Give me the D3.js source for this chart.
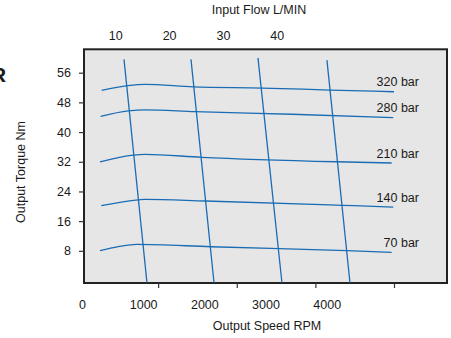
<!DOCTYPE html>
<html>
<head>
<meta charset="utf-8">
<script src="https://cdn.jsdelivr.net/npm/d3@7"></script>
<style>
    body { margin: 0; background: #fff; }
    svg { display: block; font-family: "Liberation Sans", Arial, sans-serif; }
</style>
</head>
<body>
<div id="chart"></div>
<script>

// pressure curves: rpm / torque pairs
let pressureLabels = ["320 bar", "280 bar", "210 bar", "140 bar", "70 bar"];
let pressureRpm = [
    [282, 613, 833, 1447, 2321, 3186, 4000],
    [269, 620, 833, 1469, 2700, 3990],
    [261, 684, 833, 1554, 3271, 3970],
    [277, 748, 833, 1605, 3335, 3991],
    [261, 493, 727, 1672, 3398, 3970]
];
let pressureTorque = [
    [51.25, 52.5, 52.87, 52.2, 51.87, 51.33, 50.87],
    [44.25, 45.7, 46.0, 45.5, 44.8, 43.87],
    [32.0, 33.8, 34.0, 33.2, 32.0, 31.66],
    [20.16, 21.7, 21.88, 21.42, 20.26, 19.8],
    [8.03, 9.1, 9.75, 9.1, 8.03, 7.6]
];

// input flow lines (nearly vertical)
let flowTopRpm = [566, 1418, 2270, 3147];
let flowBottomRpm = [858, 1711, 2575, 3440];
let flowTopTorque = [59.6, 59.6, 60.0, 59.4];
let flowBottomTorque = [-0.6, -0.6, -0.6, -0.6];

// tick labels
let torqueTicks = [8, 16, 24, 32, 40, 48, 56];
let speedTicks = [1000, 2000, 3000, 4000];
let speedLabels = [0, 1000, 2000, 3000, 4000];
let flowLabels = [10, 20, 30, 40];

let width = 451, height = 338;
let frame = {left: 84, top: 49.3, right: 447, bottom: 283};

let svg = d3.select("#chart").append("svg")
    .attr("width", width)
    .attr("height", height);

// scales
let x = d3.scaleLinear().domain([0, 4000]).range([79.5, 394]);
let y = d3.scaleLinear().domain([0, 56]).range([280.5, 72.7]);
// the printed labels do not sit on the tick marks, they have their own spacing
let xLabel = d3.scaleLinear().domain([0, 4000]).range([82, 326.7]);
let flowX = d3.scaleLinear().domain([10, 40]).range([115.3, 276.7]);

// plot frame
svg.append("rect")
    .attr("x", frame.left)
    .attr("y", frame.top)
    .attr("width", frame.right - frame.left)
    .attr("height", frame.bottom - frame.top)
    .attr("fill", "#e6e6e6")
    .attr("stroke", "#222")
    .attr("stroke-width", 2);

// y axis
let yAxisGroup = svg.append("g")
    .attr("transform", `translate(${frame.left}, 0)`)
    .call(d3.axisLeft(y).tickValues(torqueTicks).tickSize(5).tickPadding(8));
yAxisGroup.select(".domain").remove();

// bottom tick marks
let xTickGroup = svg.append("g")
    .attr("transform", `translate(0, ${frame.bottom})`)
    .call(d3.axisBottom(x).tickValues(speedTicks).tickSize(5).tickFormat(""));
xTickGroup.select(".domain").remove();

// bottom labels
let xLabelGroup = svg.append("g")
    .attr("transform", `translate(0, ${frame.bottom + 17.4})`)
    .call(d3.axisBottom(xLabel).tickValues(speedLabels).tickSize(0).tickPadding(0).tickFormat(d3.format("d")));
xLabelGroup.select(".domain").remove();

// top flow labels
let flowGroup = svg.append("g")
    .attr("transform", "translate(0, 40)")
    .call(d3.axisTop(flowX).tickValues(flowLabels).tickSize(0).tickPadding(0));
flowGroup.select(".domain").remove();

svg.selectAll(".tick text")
    .attr("font-size", 12.5)
    .attr("font-family", "Liberation Sans, Arial, sans-serif")
    .attr("fill", "#1a1a1a");
svg.selectAll(".tick line")
    .attr("stroke", "#333")
    .attr("stroke-width", 1.2);

// curves
let series = pressureLabels.map((label, i) => ({
    label: label,
    values: pressureRpm[i].map((r, j) => ({rpm: r, torque: pressureTorque[i][j]}))
}));

let line = d3.line()
    .x(d => x(d.rpm))
    .y(d => y(d.torque))
    .curve(d3.curveMonotoneX);

svg.selectAll(".pressure")
    .data(series)
    .join("path")
    .attr("class", "pressure")
    .attr("d", d => line(d.values))
    .attr("fill", "none")
    .attr("stroke", "#1a6db5")
    .attr("stroke-width", 1.3);

svg.selectAll(".pressure-label")
    .data(series)
    .join("text")
    .attr("class", "pressure-label")
    .attr("x", 419)
    .attr("y", d => y(d.values[d.values.length - 1].torque) - 5.5)
    .attr("text-anchor", "end")
    .attr("font-size", 12.5)
    .attr("fill", "#1a1a1a")
    .text(d => d.label);

let flowData = flowTopRpm.map((r, i) => [
    {rpm: r, torque: flowTopTorque[i]},
    {rpm: flowBottomRpm[i], torque: flowBottomTorque[i]}
]);

svg.selectAll(".flow")
    .data(flowData)
    .join("path")
    .attr("class", "flow")
    .attr("d", d3.line().x(d => x(d.rpm)).y(d => y(d.torque)))
    .attr("fill", "none")
    .attr("stroke", "#1a6db5")
    .attr("stroke-width", 1.3);

// titles
svg.append("text")
    .attr("x", 259)
    .attr("y", 14)
    .attr("text-anchor", "middle")
    .attr("font-size", 12.5)
    .attr("fill", "#1a1a1a")
    .text("Input Flow L/MIN");

svg.append("text")
    .attr("x", 267)
    .attr("y", 330)
    .attr("text-anchor", "middle")
    .attr("font-size", 12.5)
    .attr("fill", "#1a1a1a")
    .text("Output Speed RPM");

svg.append("text")
    .attr("transform", "translate(25, 172) rotate(-90)")
    .attr("text-anchor", "middle")
    .attr("font-size", 12.5)
    .attr("fill", "#1a1a1a")
    .text("Output Torque Nm");

// cut-off letter at the page edge
svg.append("text")
    .attr("x", -9)
    .attr("y", 81.5)
    .attr("font-size", 21)
    .attr("font-weight", "bold")
    .attr("fill", "#1a1a1a")
    .text("R");

</script>
</body>
</html>
